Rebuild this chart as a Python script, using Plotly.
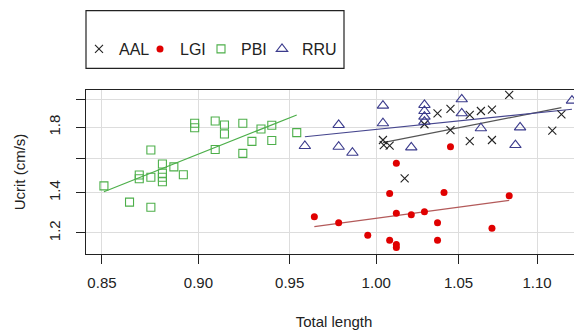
import numpy as np
import plotly.graph_objects as go

# ---- data ----
aal_x = [1.082, 1.037, 1.045, 1.057, 1.064, 1.071, 1.116, 1.110, 1.045, 1.029,
         1.004, 1.0045, 1.008, 1.057, 1.071, 1.017]
aal_y = [2.039, 1.900, 1.932, 1.888, 1.917, 1.927, 1.893, 1.778, 1.782, 1.822,
         1.715, 1.682, 1.678, 1.708, 1.715, 1.480]

lgi_x = [1.012, 1.008, 1.041, 1.082, 0.964, 0.978, 0.995, 1.008, 1.012, 1.012,
         1.012, 1.021, 1.029, 1.037, 1.037, 1.071, 1.045]
lgi_y = [1.568, 1.397, 1.402, 1.384, 1.277, 1.248, 1.190, 1.167, 1.148, 1.135,
         1.294, 1.287, 1.302, 1.248, 1.167, 1.222, 1.671]

pbi_x = [0.851, 0.864, 0.875, 0.875, 0.869, 0.869, 0.875, 0.881, 0.881, 0.881,
         0.881, 0.887, 0.892, 0.898, 0.898, 0.909, 0.909, 0.914, 0.914, 0.924,
         0.924, 0.929, 0.934, 0.940, 0.940, 0.954]
pbi_y = [1.438, 1.351, 1.325, 1.650, 1.499, 1.478, 1.486, 1.564, 1.509, 1.486,
         1.461, 1.547, 1.501, 1.829, 1.798, 1.845, 1.654, 1.817, 1.755, 1.829,
         1.629, 1.706, 1.789, 1.815, 1.712, 1.764]

rru_x = [0.9586, 0.978, 0.978, 0.986, 1.004, 1.004, 1.021, 1.029, 1.029, 1.029,
         1.029, 1.052, 1.052, 1.064, 1.089, 1.086, 1.123]
rru_y = [1.676, 1.817, 1.671, 1.633, 1.957, 1.829, 1.667, 1.962, 1.917, 1.876,
         1.840, 2.005, 1.900, 1.794, 1.800, 1.682, 1.995]

x_ticks = [0.85, 0.90, 0.95, 1.00, 1.05, 1.10]
x_ticktext = ["0.85", "0.90", "0.95", "1.00", "1.05", "1.10"]
y_ticks = [1.2, 1.4, 1.6, 1.8, 2.0]
y_ticktext = ["1.2", "1.4", "", "1.8", ""]

series = [
    ("AAL", aal_x, aal_y, dict(symbol="x-thin-open", size=8, color="#222222",
                               line=dict(width=1.1, color="#222222")), "#555555", 16),
    ("LGI", lgi_x, lgi_y, dict(symbol="circle", size=7, color="#e00000",
                               line=dict(width=0)), "#b35a5a", 16),
    ("PBI", pbi_x, pbi_y, dict(symbol="square-open", size=8, color="#4daf4a",
                               line=dict(width=1.1)), "#4daf4a", 16),
    ("RRU", rru_x, rru_y, dict(symbol="triangle-up-open", size=10, color="#3b3b8c",
                               line=dict(width=1.1)), "#46468e", 40),
]

fig = go.Figure()
for name, xs, ys, mk, lc, lw in series:
    lx = np.log10(xs)
    ly = np.log10(ys)
    b, a = np.polyfit(lx, ly, 1)
    xx = np.array([min(xs), max(xs)])
    yy = 10 ** (a + b * np.log10(xx))
    fig.add_trace(go.Scatter(x=xx, y=yy, mode="lines", line=dict(color=lc, width=1.2),
                             showlegend=False, hoverinfo="skip"))
for name, xs, ys, mk, lc, lw in series:
    fig.add_trace(go.Scatter(x=xs, y=ys, mode="markers", name=name, marker=mk,
                             legendwidth=lw))

# the page body has an 8px margin; figure is shifted by it
OFF = 8
W, H = 582 - OFF, 332 - OFF
ml, mr, mt = 86 - OFF, 0, 90 - OFF
mb = H - mt - 164
PW, PH = W - ml - mr, H - mt - mb

def px(xp):
    return (xp - OFF - ml) / PW

def py(yp):
    return 1 - (yp - OFF - mt) / PH

fig.update_layout(
    width=W, height=H,
    margin=dict(l=ml, r=mr, t=mt, b=mb, autoexpand=False),
    paper_bgcolor="white", plot_bgcolor="white",
    font=dict(family="Liberation Sans, Arial, sans-serif", size=15, color="#222222"),
    showlegend=True,
    legend=dict(orientation="h", x=px(79), xanchor="left",
                y=py(32), yanchor="top",
                bgcolor="rgba(0,0,0,0)", borderwidth=0,
                font=dict(size=16, color="#222222")),
)
fig.add_shape(type="rect", xref="paper", yref="paper",
              x0=px(86), x1=px(344), y0=py(68.3), y1=py(10.7),
              line=dict(color="#222222", width=1.2), layer="above")

fig.update_xaxes(
    type="log", range=[np.log10(0.842), np.log10(1.1297)],
    tickvals=x_ticks, ticktext=x_ticktext, automargin=False,
    showgrid=True, gridcolor="#dddddd", gridwidth=1, zeroline=False,
    showline=True, linecolor="#222222", linewidth=1.2, mirror=True,
    ticks="outside", ticklen=9, tickcolor="#222222", tickwidth=1.2,
    ticklabelstandoff=6,
    title=dict(text="Total length", font=dict(size=15), standoff=26),
)
fig.update_yaxes(
    type="log", range=[np.log10(1.107), np.log10(2.078)],
    tickvals=y_ticks, ticktext=y_ticktext, tickangle=-90, automargin=False,
    showgrid=True, gridcolor="#dddddd", gridwidth=1, zeroline=False,
    showline=True, linecolor="#222222", linewidth=1.2, mirror=False,
    ticks="outside", ticklen=9, tickcolor="#222222", tickwidth=1.2,
    ticklabelstandoff=10,
    title=dict(text="Ucrit (cm/s)", font=dict(size=15), standoff=16),
)

fig.write_html("out.html")
